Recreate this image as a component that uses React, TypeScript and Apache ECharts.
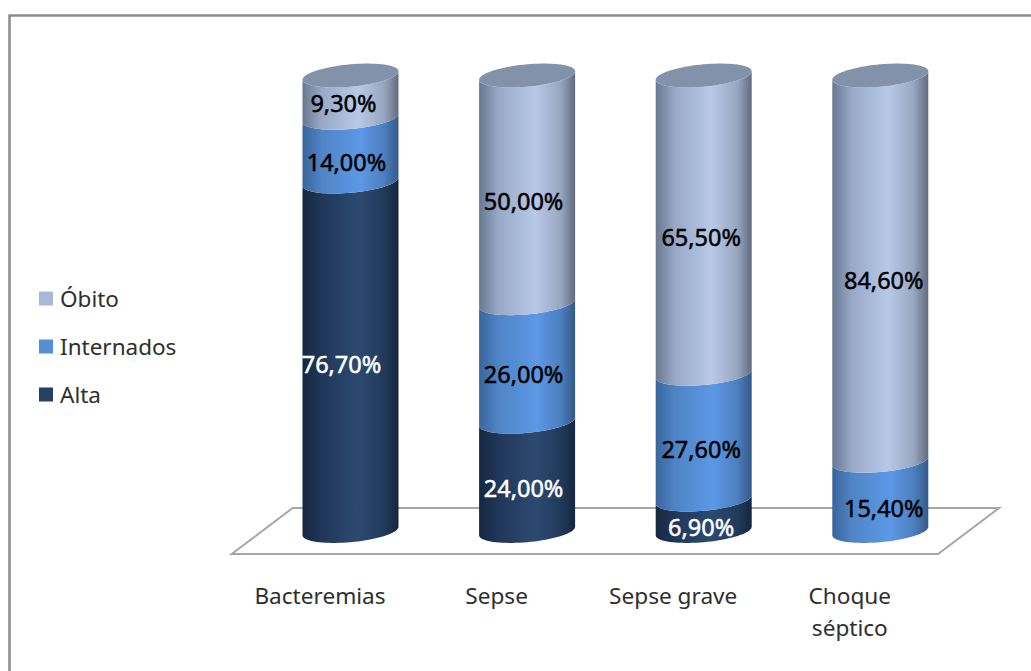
import React, { useEffect, useRef } from "react";
import * as echarts from "echarts";

// Desfecho dos pacientes por categoria diagnóstica (%)
const categories = ["Bacteremias", "Sepse", "Sepse grave", "Choque\nséptico"];
const alta = [76.7, 24.0, 6.9, 0];
const internados = [14.0, 26.0, 27.6, 15.4];
const obito = [9.3, 50.0, 65.5, 84.6];

const FONT = '"Noto Sans", sans-serif';
const DEPTH_X = 30.5; // floor depth: the cylinders stand halfway back
const DEPTH_Y = 23;
const WIDTH_RATIO = 0.2718;
const LABEL_DY = 12;
const labelDxByCategory = [-4, -3.5, -2.5, 3.5];
// Extra label offsets for the tallest Bacteremias bands, keyed "series-category"
const labelNudge: Record<string, [number, number]> = {
  "0-0": [-5, -4.5],
  "2-0": [-3, -6],
};

type Shade = { name: string; values: number[]; base: string; text: string; stops: [number, string][] };

const shades: Shade[] = [
  {
    name: "Alta",
    values: alta,
    base: "#254061",
    text: "#ffffff",
    stops: [
      [0, "#16273f"],
      [0.2, "#20375a"],
      [0.58, "#2c4a70"],
      [0.85, "#213a5a"],
      [1, "#152640"],
    ],
  },
  {
    name: "Internados",
    values: internados,
    base: "#558ed5",
    text: "#000000",
    stops: [
      [0, "#39659b"],
      [0.2, "#4f84c6"],
      [0.6, "#5c98e6"],
      [0.85, "#4c7fbe"],
      [1, "#345a88"],
    ],
  },
  {
    name: "Óbito",
    values: obito,
    base: "#a7b9d9",
    text: "#000000",
    stops: [
      [0, "#697890"],
      [0.2, "#98a8c6"],
      [0.58, "#b8c9e8"],
      [0.85, "#98a6c0"],
      [1, "#626c80"],
    ],
  },
];

const formatPercent = (v: number) => v.toFixed(2).replace(".", ",") + "%";

// Front half of the tilted ring at height cy, walking from one side to the other.
function frontArc(cx: number, cy: number, r: number, fromLeft: boolean) {
  const pts: number[][] = [];
  const n = 40;
  for (let i = 0; i <= n; i++) {
    const t = fromLeft ? Math.PI * (1 - i / n) : (Math.PI * i) / n;
    pts.push([
      cx + r * Math.cos(t),
      cy - r * 0.0875 * Math.cos(t) + r * 0.233 * Math.sin(t),
    ]);
  }
  return pts;
}

function fullRing(cx: number, cy: number, r: number) {
  const pts: number[][] = [];
  const n = 80;
  for (let i = 0; i < n; i++) {
    const t = (2 * Math.PI * i) / n;
    pts.push([
      cx + r * Math.cos(t),
      cy - r * 0.0875 * Math.cos(t) + r * 0.233 * Math.sin(t),
    ]);
  }
  return pts;
}

function segmentSeries(shade: Shade, index: number) {
  const data = shade.values
    .map((v, i) => {
      const start = shades.slice(0, index).reduce((s, o) => s + o.values[i], 0);
      return [i, start, start + v, v];
    })
    .filter((d) => d[3] > 0);

  return {
    type: "custom",
    name: shade.name,
    coordinateSystem: "cartesian2d",
    clip: false,
    silent: true,
    itemStyle: { color: shade.base },
    encode: { x: 0, y: [1, 2] },
    data,
    renderItem: (_: any, api: any) => {
      const cat = api.value(0);
      const y0 = api.value(1);
      const y1 = api.value(2);
      const [fx, fy0] = api.coord([cat, y0]);
      const fy1 = api.coord([cat, y1])[1];
      const cx = fx + DEPTH_X;
      const r = api.size([1, 0])[0] * WIDTH_RATIO;
      const bottom = fy0 - DEPTH_Y;
      const top = fy1 - DEPTH_Y;
      const children: any[] = [
        {
          type: "polygon",
          shape: { points: [...frontArc(cx, top, r, true), ...frontArc(cx, bottom, r, false)] },
          style: { fill: new echarts.graphic.LinearGradient(0, 0, 1, 0, shade.stops.map(([offset, color]) => ({ offset, color }))) },
        },
      ];
      if (y1 >= 99.99) {
        children.push({
          type: "polygon",
          shape: { points: fullRing(cx, top, r) },
          style: { fill: "#8292ab" },
        });
      }
      const nudge = labelNudge[`${index}-${cat}`] || [0, 0];
      children.push({
        type: "text",
        style: {
          text: formatPercent(api.value(3)),
          x: cx + labelDxByCategory[cat] + nudge[0],
          y: (top + bottom) / 2 + LABEL_DY + nudge[1],
          fill: shade.text,
          stroke: shade.text,
          lineWidth: 0.5,
          font: `23.5px ${FONT}`,
          align: "center",
          verticalAlign: "middle",
        },
      });
      return { type: "group", children };
    },
  };
}

const floorSeries = {
  type: "custom",
  name: "Base",
  coordinateSystem: "cartesian2d",
  clip: false,
  silent: true,
  data: [[0, 0]],
  renderItem: (params: any) => {
    const { x, y, width, height } = params.coordSys;
    const b = y + height;
    return {
      type: "polygon",
      shape: {
        points: [
          [x, b],
          [x + width, b],
          [x + width + 2 * DEPTH_X, b - 2 * DEPTH_Y],
          [x + 2 * DEPTH_X, b - 2 * DEPTH_Y],
        ],
      },
      style: { fill: "#ffffff", stroke: "#a6a6a6", lineWidth: 2 },
    };
  },
};

export default function App() {
  const ref = useRef<HTMLDivElement>(null);

  useEffect(() => {
    const chart = echarts.init(ref.current!, undefined, { renderer: "svg" });
    chart.setOption({
      animation: false,
      backgroundColor: "#ffffff",
      grid: { left: 231.7, top: 98.5, width: 706.4, height: 455.5 },
      xAxis: {
        type: "category",
        data: categories,
        axisLine: { show: false },
        axisTick: { show: false },
        axisLabel: {
          color: "#2e2e2e",
          fontFamily: FONT,
          fontSize: 22.6,
          margin: 25,
          lineHeight: 32,
          interval: 0,
        },
      },
      yAxis: { type: "value", min: 0, max: 100, show: false },
      legend: {
        orient: "vertical",
        left: 39,
        top: 287,
        padding: 0,
        icon: "rect",
        itemWidth: 14,
        itemHeight: 14,
        itemGap: 25,
        selectedMode: false,
        data: ["Óbito", "Internados", "Alta"],
        textStyle: { color: "#2e2e2e", fontFamily: FONT, fontSize: 22.5, padding: [0, 0, 0, 2] },
      },
      graphic: [
        {
          type: "polyline",
          shape: { points: [[9.5, 671], [9.5, 15.5], [1031, 15.5]] },
          style: { stroke: "#8c8c8c", lineWidth: 2.5, fill: "none" },
          silent: true,
        },
      ],
      series: [floorSeries, ...shades.map(segmentSeries)],
    });
    return () => chart.dispose();
  }, []);

  return (
    <div
      ref={ref}
      style={{ position: "absolute", left: 0, top: 0, width: 1031, height: 671 }}
    />
  );
}
